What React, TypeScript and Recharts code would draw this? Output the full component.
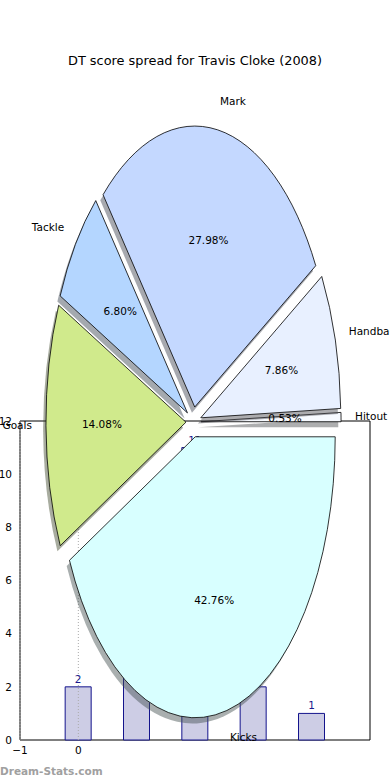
import React from 'react';
import {
  BarChart, Bar, XAxis, YAxis, LabelList, ReferenceLine, ReferenceArea,
  PieChart, Pie,
} from 'recharts';

// ---------- data ----------
const sliceNames = ['Hitout', 'Handball', 'Mark', 'Tackle', 'Goals', 'Kicks'];
const slicePercents = [0.53, 7.86, 27.98, 6.8, 14.08, 42.76];
const sliceColors = ['#f7faff', '#e8f0ff', '#c4d8ff', '#b4d6ff', '#d0ea8c', '#d8ffff'];

const barPositions = [0, 1, 2, 3, 4];
const barValues = [2, 5, 11, 2, 1];
const yTicks = [0, 2, 4, 6, 8, 10, 12];
const xTicks = [-1, 0];

const titleText = 'DT score spread for Travis Cloke (2008)';
const watermark = 'Dream-Stats.com';

// ---------- style constants ----------
const FONT = '"DejaVu Sans", sans-serif';
const ASPECT = 2.007; // vertical / horizontal radius of the drawn pie
const EXPLODE = 0.054;
const SHADOW_DX = -0.02;
const SHADOW_DY = -0.02;
const W = 390;
const H = 780;

const pieData = sliceNames.map((name, i) => ({ name, value: slicePercents[i], fill: sliceColors[i] }));
const barData = barPositions.map((x, i) => ({ x, v: barValues[i] }));

const RAD = Math.PI / 180;

function darken(hex: string, rho: number) {
  const h = hex.replace('#', '');
  const r = Math.round(parseInt(h.slice(0, 2), 16) * rho);
  const g = Math.round(parseInt(h.slice(2, 4), 16) * rho);
  const b = Math.round(parseInt(h.slice(4, 6), 16) * rho);
  return `rgb(${r},${g},${b})`;
}

function EllipseSlice(props: any) {
  const { cx, cy, outerRadius, startAngle, endAngle, fill } = props;
  const rx = outerRadius;
  const ry = outerRadius * ASPECT;
  const mid = ((startAngle + endAngle) / 2) * RAD;
  const ox = EXPLODE * rx * Math.cos(mid);
  const oy = -EXPLODE * ry * Math.sin(mid);
  const makePath = (dx: number, dy: number) => {
    const x0 = cx + ox + dx;
    const y0 = cy + oy + dy;
    const a1 = startAngle * RAD;
    const a2 = endAngle * RAD;
    const p1x = x0 + rx * Math.cos(a1);
    const p1y = y0 - ry * Math.sin(a1);
    const p2x = x0 + rx * Math.cos(a2);
    const p2y = y0 - ry * Math.sin(a2);
    const large = Math.abs(endAngle - startAngle) > 180 ? 1 : 0;
    const sweep = endAngle > startAngle ? 0 : 1;
    return `M${x0},${y0} L${p1x},${p1y} A${rx},${ry} 0 ${large} ${sweep} ${p2x},${p2y} Z`;
  };
  const shadowColor = darken(fill, 0.3);
  return (
    <g>
      <path
        d={makePath(SHADOW_DX * rx, -SHADOW_DY * ry)}
        fill={shadowColor}
        fillOpacity={0.45}
        stroke="none"
      />
      <path d={makePath(0, 0)} fill={fill} stroke="#000" strokeWidth={0.8} strokeLinejoin="miter" />
    </g>
  );
}

function SliceLabel(props: any) {
  const { cx, cy, outerRadius, midAngle, name, value } = props;
  const rx = outerRadius;
  const ry = outerRadius * ASPECT;
  const m = midAngle * RAD;
  const c = Math.cos(m);
  const s = Math.sin(m);
  const ex = cx + EXPLODE * rx * c;
  const ey = cy - EXPLODE * ry * s;
  const lx = ex + 1.1 * rx * c;
  const ly = ey - 1.1 * ry * s;
  const px = ex + 0.6 * rx * c;
  const py = ey - 0.6 * ry * s;
  return (
    <g>
      <text x={lx} y={ly} dy="0.3em" textAnchor={c >= 0 ? 'start' : 'end'}
        fontFamily={FONT} fontSize={10.5} fill="#000">{name}</text>
      <text x={px} y={py} dy="0.3em" textAnchor="middle"
        fontFamily={FONT} fontSize={10.5} fill="#000">{`${Number(value).toFixed(2)}%`}</text>
    </g>
  );
}

const fmtTick = (v: number) => (v < 0 ? '\u2212' + Math.abs(v) : String(v));

export default function App() {
  return (
    <div style={{ position: 'absolute', left: 0, top: 0, width: W, height: H, background: '#fff' }}>
      <div style={{ position: 'absolute', left: 0, top: 0 }}>
        <BarChart width={W} height={H} data={barData} margin={{ top: 421, right: 20, bottom: 20, left: 0 }}>
          <XAxis
            type="number" dataKey="x" domain={[-1, 5]} ticks={xTicks} allowDataOverflow
            axisLine={false} tickLine={false} height={20} tickFormatter={fmtTick}
            tick={{ fontFamily: FONT, fontSize: 10.5, fill: '#000' }} tickMargin={1}
          />
          <YAxis
            yAxisId={0} domain={[0, 12]} ticks={yTicks} width={20} axisLine={false} tickLine={false}
            tick={{ fontFamily: FONT, fontSize: 10.5, fill: '#000' }} tickMargin={2}
          />
          <YAxis
            yAxisId="inL" orientation="left" mirror domain={[0, 12]} ticks={yTicks} width={0}
            axisLine={false} tick={false} tickSize={3} tickLine={{ stroke: '#999' }}
          />
          <YAxis
            yAxisId="inR" orientation="right" mirror domain={[0, 12]} ticks={yTicks} width={0}
            axisLine={false} tick={false} tickSize={3} tickLine={{ stroke: '#999' }}
          />
          <Bar dataKey="v" barSize={26} fill="#cdcde5" stroke="#14148c" strokeWidth={1} isAnimationActive={false}>
            <LabelList dataKey="v" position="top" offset={4} fill="#1a1a8c" fontFamily={FONT} fontSize={10.5} />
          </Bar>
          <ReferenceLine x={-1} stroke="#aaa" strokeDasharray="1 2" ifOverflow="visible" />
          <ReferenceLine x={0} stroke="#aaa" strokeDasharray="1 2" ifOverflow="visible" />
          <ReferenceArea x1={-1} x2={5} y1={0} y2={12} fill="none" fillOpacity={0} stroke="#000" strokeWidth={1} ifOverflow="visible" />
        </BarChart>
      </div>
      <div style={{ position: 'absolute', left: 0, top: 0 }}>
        <PieChart width={W} height={H} margin={{ top: 0, right: 0, bottom: 0, left: 0 }}>
          <Pie
            data={pieData}
            dataKey="value"
            nameKey="name"
            cx={193.5}
            cy={422}
            innerRadius={0}
            outerRadius={140}
            startAngle={0}
            endAngle={360}
            stroke="#000"
            shape={EllipseSlice}
            label={SliceLabel}
            labelLine={false}
            isAnimationActive={false}
          />
        </PieChart>
      </div>
      <svg width={W} height={H} style={{ position: 'absolute', left: 0, top: 0, pointerEvents: 'none' }}>
        <text x={195} y={60} dy="0.36em" textAnchor="middle" fontFamily={FONT} fontSize={12.9} fill="#000">{titleText}</text>
        <text x={0} y={771} dy="0.36em" textAnchor="start" fontFamily={FONT} fontSize={10.5} fontWeight="bold" fill="#a0a0a0">{watermark}</text>
      </svg>
    </div>
  );
}
